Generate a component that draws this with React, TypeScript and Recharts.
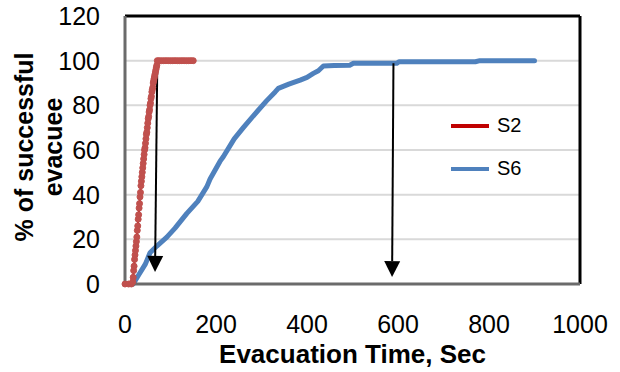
import React from "react";
import {
  LineChart,
  Line,
  XAxis,
  YAxis,
  CartesianGrid,
  ReferenceLine,
  Legend,
} from "recharts";

// S2: evacuation time (s) vs % evacuated
const s2Time = [
  0, 8, 14, 17, 18, 19, 20, 21, 22, 23, 24, 25, 26, 27, 28, 29, 30, 31, 32, 33,
  34, 35, 36, 37, 38, 39, 40, 41, 42, 43, 44, 45, 46, 47, 48, 49, 50, 51, 52, 53,
  54, 55, 56, 57, 58, 59, 60, 61, 62, 63, 64, 65, 66, 67, 68, 69, 70, 71, 75, 80,
  85, 90, 95, 100, 105, 110, 115, 120, 125, 130, 135, 140, 145, 150,
];
const s2Pct = [
  0, 0, 0, 1, 3, 6, 8, 11, 13, 15, 17, 19, 21, 24, 26, 29, 31, 34, 36, 39, 41,
  44, 46, 48, 50, 52, 54, 56, 58, 60, 61, 63, 65, 67, 68, 70, 72, 74, 75, 77, 78,
  80, 81, 83, 84, 86, 87, 88, 90, 91, 92, 93, 94, 95, 96, 97, 98, 100, 100, 100,
  100, 100, 100, 100, 100, 100, 100, 100, 100, 100, 100, 100, 100, 100,
];

// S6
const s6Time = [
  12, 18, 30, 45, 55, 70, 92, 110, 136, 160, 180, 187, 209, 216, 240, 260, 285,
  311, 330, 337, 360, 385, 400, 414, 425, 436, 460, 494, 502, 550, 597, 602, 700,
  770, 780, 850, 900,
];
const s6Pct = [
  0, 0, 4, 9, 14, 17, 21, 25, 31.6, 37, 43.6, 47, 55, 57, 65, 70, 76, 82, 86,
  87.6, 89.5, 91.3, 92.5, 94.3, 95.5, 97.6, 97.8, 98, 98.8, 98.8, 98.8, 99.5,
  99.5, 99.5, 100, 100, 100,
];

const xTicks = [0, 200, 400, 600, 800, 1000];
const yTicks = [0, 20, 40, 60, 80, 100, 120];

// arrows drawn on the chart (data coordinates)
const arrows = [
  { from: { x: 71, y: 100 }, to: { x: 66, y: 5.4 } },
  { from: { x: 590, y: 98.8 }, to: { x: 587, y: 3.1 } },
];

const s2Data = s2Time.map((t, i) => ({ t, v: s2Pct[i] }));
const s6Data = s6Time.map((t, i) => ({ t, v: s6Pct[i] }));

const FONT = "'Liberation Sans', Arial, sans-serif";

const ArrowShape = (props: any) => {
  const { x1, y1, x2, y2 } = props;
  const dx = x2 - x1;
  const dy = y2 - y1;
  const len = Math.sqrt(dx * dx + dy * dy) || 1;
  const ux = dx / len;
  const uy = dy / len;
  const head = 16;
  const half = 8;
  const bx = x2 - ux * head;
  const by = y2 - uy * head;
  const pts = `${x2},${y2} ${bx - uy * half},${by + ux * half} ${bx + uy * half},${by - ux * half}`;
  return (
    <g>
      <line x1={x1} y1={y1} x2={bx} y2={by} stroke="#000" strokeWidth={2} />
      <polygon points={pts} fill="#000" />
    </g>
  );
};

const legendItems = [
  { name: "S2", color: "#C00000" },
  { name: "S6", color: "#4F81BD" },
];

const renderLegend = () => (
  <div style={{ fontFamily: FONT, fontSize: 20, color: "#000" }}>
    {legendItems.map((it) => (
      <div
        key={it.name}
        style={{ display: "flex", alignItems: "center", height: 43 }}
      >
        <div
          style={{ width: 38, height: 4, background: it.color, marginRight: 8 }}
        />
        <span>{it.name}</span>
      </div>
    ))}
  </div>
);

const App = () => {
  return (
    <div
      style={{
        position: "absolute",
        left: 0,
        top: 0,
        width: 620,
        height: 372,
        background: "#fff",
      }}
    >
      <LineChart
        width={620}
        height={372}
        margin={{ top: 16, right: 40, left: 0, bottom: 0 }}
        style={{ fontFamily: FONT }}
      >
        <CartesianGrid vertical={false} stroke="#d9d9d9" strokeWidth={2} />
        <XAxis
          dataKey="t"
          type="number"
          domain={[0, 1000]}
          ticks={xTicks}
          height={88}
          tickLine={false}
          tickSize={0}
          tickMargin={31}
          axisLine={{ stroke: "#6b6b6b", strokeWidth: 3 }}
          tick={{ fontSize: 25, fill: "#000", fontFamily: FONT }}
          allowDuplicatedCategory={false}
          label={{
            content: (p: any) => {
              const vb = p.viewBox || {};
              return (
                <text
                  x={vb.x + vb.width / 2}
                  y={363}
                  textAnchor="middle"
                  fontFamily={FONT}
                  fontWeight="bold"
                  fontSize={26}
                  fill="#000"
                >
                  Evacuation Time, Sec
                </text>
              );
            },
          }}
        />
        <YAxis
          type="number"
          domain={[0, 120]}
          ticks={yTicks}
          width={125}
          tickLine={false}
          tickSize={0}
          tickMargin={25}
          axisLine={{ stroke: "#6b6b6b", strokeWidth: 3 }}
          tick={{ fontSize: 25, fill: "#000", fontFamily: FONT }}
          label={{
            content: (p: any) => {
              const vb = p.viewBox || {};
              const cy = vb.y + vb.height / 2 - 3;
              return (
                <g>
                  <text
                    transform={`translate(33, ${cy}) rotate(-90)`}
                    textAnchor="middle"
                    fontFamily={FONT}
                    fontWeight="bold"
                    fontSize={25}
                    fill="#000"
                  >
                    % of successful
                  </text>
                  <text
                    transform={`translate(62, ${cy}) rotate(-90)`}
                    textAnchor="middle"
                    fontFamily={FONT}
                    fontWeight="bold"
                    fontSize={25}
                    fill="#000"
                  >
                    evacuee
                  </text>
                </g>
              );
            },
          }}
        />
        <ReferenceLine y={120} stroke="#000" strokeWidth={3} />
        <ReferenceLine x={1000} stroke="#000" strokeWidth={3} />
        <Line
          data={s6Data}
          dataKey="v"
          name="S6"
          stroke="#4F81BD"
          strokeWidth={5}
          strokeLinejoin="round"
          strokeLinecap="round"
          dot={false}
          isAnimationActive={false}
        />
        <Line
          data={s2Data}
          dataKey="v"
          name="S2"
          stroke="#C00000"
          strokeWidth={2}
          dot={{ r: 3, fill: "#C0504D", stroke: "#C0504D", strokeWidth: 1 }}
          isAnimationActive={false}
        />
        {arrows.map((a, i) => (
          <ReferenceLine
            key={i}
            segment={[a.from, a.to]}
            shape={ArrowShape}
            ifOverflow="visible"
          />
        ))}
        <Legend
          layout="vertical"
          align="center"
          verticalAlign="middle"
          content={renderLegend}
          wrapperStyle={{ left: 451, top: 104, width: 100 }}
        />
      </LineChart>
    </div>
  );
};

export default App;
